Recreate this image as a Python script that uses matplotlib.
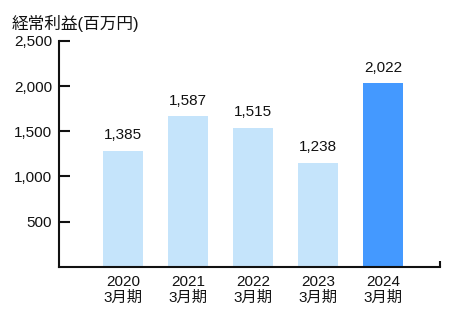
import matplotlib
matplotlib.use("Agg")
import matplotlib.pyplot as plt

# data
years = ["2020", "2021", "2022", "2023", "2024"]
period = "3月期"
bar_heights = [1285, 1667, 1541, 1152, 2030]   # bar tops as drawn
value_labels = ["1,385", "1,587", "1,515", "1,238", "2,022"]
yticks = [500, 1000, 1500, 2000, 2500]
ytick_labels = ["500", "1,000", "1,500", "2,000", "2,500"]

light = "#c5e4fb"
dark = "#4499ff"
fonts = ["Liberation Sans", "Noto Sans CJK JP", "DejaVu Sans"]
plt.rcParams["font.family"] = fonts

fig = plt.figure(figsize=(4.5, 3.2), dpi=100)
ax = fig.add_axes([59 / 450, 1 - 266.7 / 320, (440 - 59) / 450, (266.7 - 41) / 320])

x = list(range(len(years)))
colors = [light] * (len(years) - 1) + [dark]
ax.bar(x, bar_heights, width=0.615, color=colors, zorder=1)

for xi, h, lab in zip(x, bar_heights, value_labels):
    ax.annotate(lab, (xi, h), xytext=(0, 6), textcoords="offset points",
                ha="center", va="bottom", fontsize=11, color="#111111")

ax.set_xlim(-0.985, 4.877)
ax.set_ylim(0, 2500)
ax.set_yticks(yticks)
ax.set_yticklabels(ytick_labels)
ax.set_xticks(x)
ax.set_xticklabels([y + "\n" + period for y in years], linespacing=1.15)

for s in ["top", "right"]:
    ax.spines[s].set_visible(False)
for s in ["left", "bottom"]:
    ax.spines[s].set_linewidth(1.5)
    ax.spines[s].set_color("#111111")

ax.tick_params(axis="y", direction="in", length=8, width=1.5, pad=5,
               labelsize=11, colors="#111111")
ax.tick_params(axis="x", length=0, pad=6, labelsize=11, colors="#111111")

# small upright tick at the right end of the baseline
ax.plot([1, 1], [0, 0.025], transform=ax.transAxes, color="#111111",
        lw=1.5, clip_on=False, solid_capstyle="butt")

fig.text(12 / 450, 1 - 15 / 320, "経常利益(百万円)", fontsize=12,
         ha="left", va="top", color="#111111")

fig.savefig("out.png", dpi=100)
